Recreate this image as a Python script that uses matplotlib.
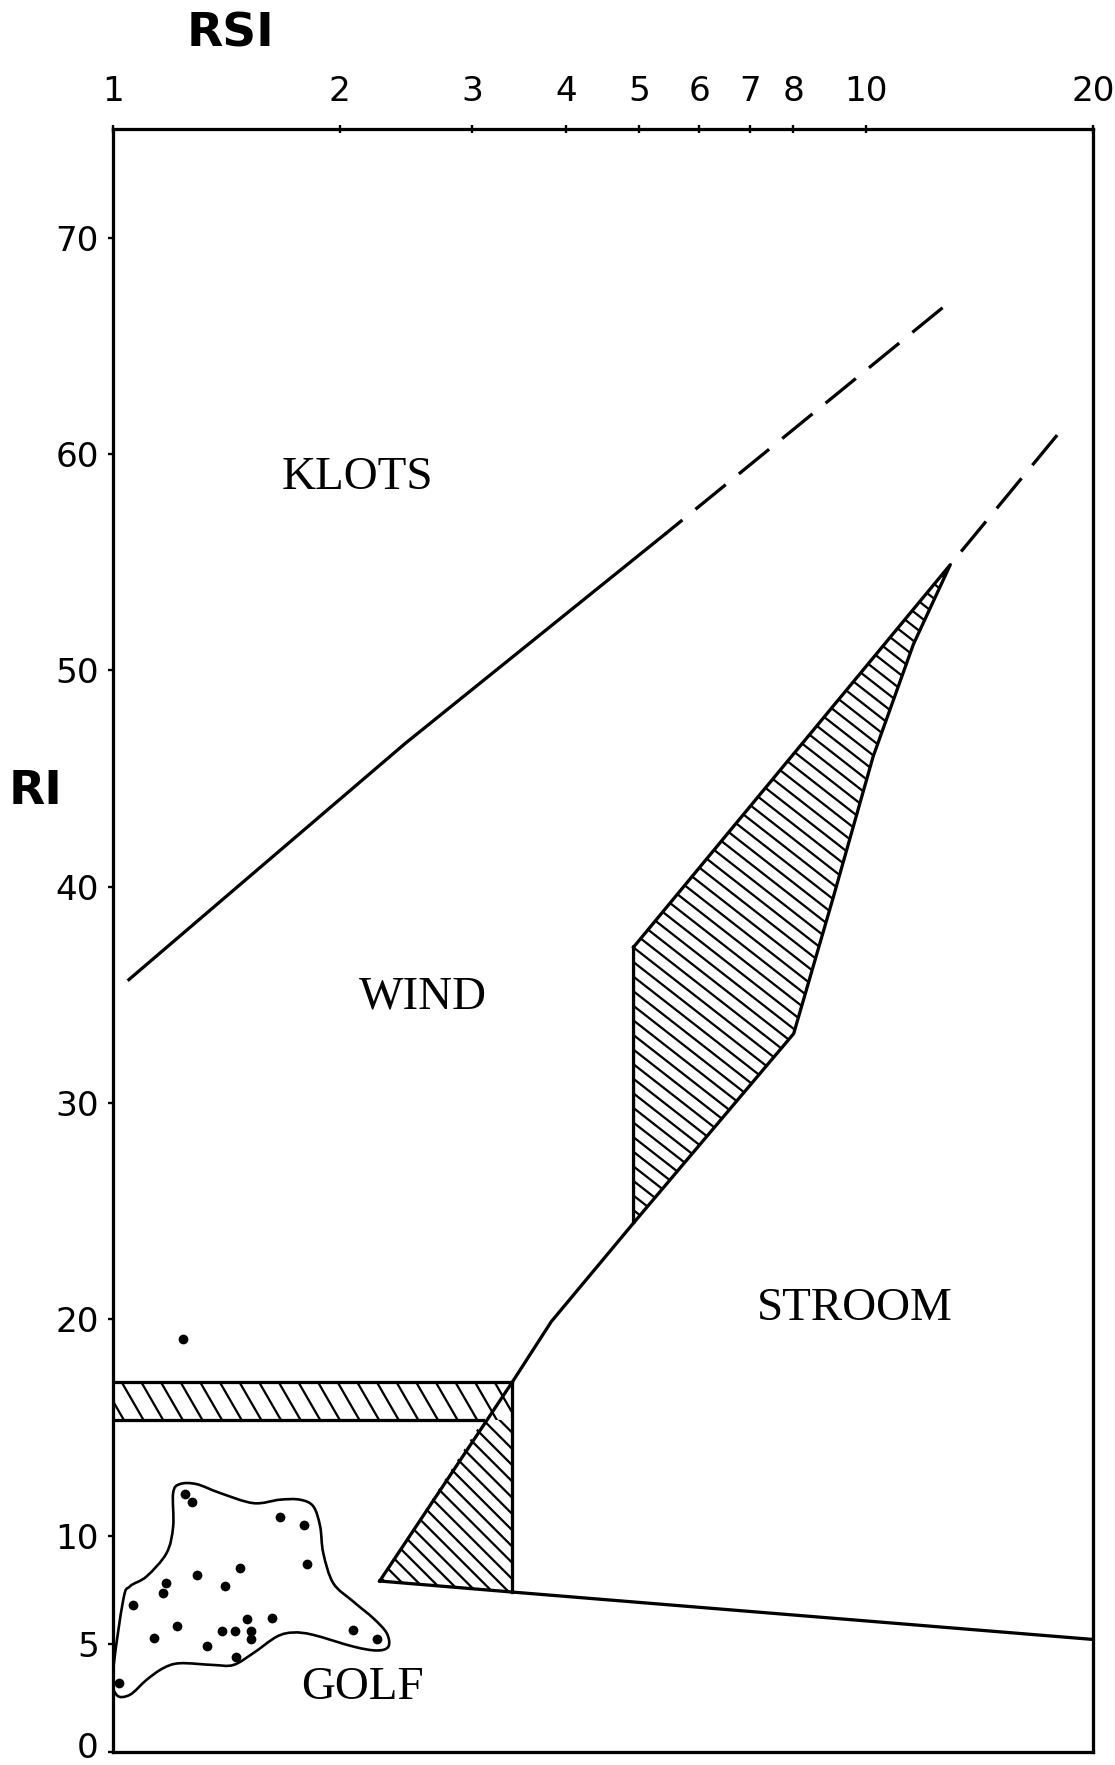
import numpy as np
import matplotlib
matplotlib.use("Agg")
import matplotlib.pyplot as plt
from matplotlib import ticker
from matplotlib.patches import Polygon, PathPatch
from matplotlib.path import Path
from matplotlib.collections import LineCollection
from matplotlib.transforms import ScaledTranslation

DPI = 130
plt.rcParams["lines.scale_dashes"] = False

# axis ticks
rsi_ticks = [1, 2, 3, 4, 5, 6, 7, 8, 10, 20]
ri_ticks = [0, 5, 10, 20, 30, 40, 50, 60, 70]

# KLOTS / WIND boundary (solid part, then dashed)
klots_x = [1.05, 2.44, 5.41]
klots_y = [35.7, 46.6, 56.3]
klots_dash_x = [5.41, 13.09]
klots_dash_y = [56.3, 67.2]

# hatched transition strip between WIND and STROOM
strip_x = [4.91, 4.91, 8.01, 9.04, 10.21, 11.55, 12.93]
strip_y = [37.2, 24.45, 33.2, 39.5, 46.0, 51.2, 54.88]
strip_dash_x = [12.93, 18.2]
strip_dash_y = [54.88, 61.15]

# WIND / STROOM boundary
wind_x = [2.26, 3.39, 3.82, 4.91]
wind_y = [7.9, 17.1, 19.9, 24.45]

# horizontal hatched band
band_x = [1.0, 3.39]
band_top = 17.1
band_bottom = 15.35
band_bottom_end = 3.1

# lower hatched triangle
tri_x = [2.26, 3.1, 3.39, 3.39]
tri_y = [7.9, 15.35, 15.35, 7.39]

# GOLF / STROOM boundary
golf_line_x = [2.26, 3.39, 20.0]
golf_line_y = [7.9, 7.39, 5.2]

# outline round the golf observations
blob_x = [1.00, 1.032, 1.053, 1.108, 1.178, 1.202, 1.202, 1.227, 1.291, 1.387,
          1.536, 1.666, 1.771, 1.845, 1.884, 1.902, 1.961, 2.085, 2.216, 2.309,
          2.321, 2.240, 2.085, 1.845, 1.736, 1.650, 1.536, 1.445, 1.359, 1.227,
          1.166, 1.108, 1.053, 1.011]
blob_y = [3.64, 7.03, 7.65, 8.11, 9.19, 10.42, 11.97, 12.38, 12.38, 11.97,
          11.50, 11.66, 11.66, 11.35, 10.42, 9.19, 7.80, 6.95, 6.18, 5.49,
          4.87, 4.69, 4.87, 5.41, 5.52, 5.33, 4.57, 4.02, 4.02, 4.10,
          3.87, 3.33, 2.64, 2.64]

# observations
obs_x = [1.238, 1.246, 1.274, 1.666, 1.794, 1.812, 1.475, 1.291, 1.408, 1.175,
         1.164, 1.062, 1.215, 1.135, 1.332, 1.397, 1.452, 1.505, 1.525, 1.525,
         1.624, 1.455, 2.085, 2.244, 1.019]
obs_y = [19.1, 11.92, 11.55, 10.87, 10.51, 8.70, 8.48, 8.20, 7.65, 7.80,
         7.34, 6.80, 5.84, 5.26, 4.90, 5.61, 5.61, 6.15, 5.57, 5.23,
         6.18, 4.41, 5.64, 5.23, 3.18]

region_names = ["KLOTS", "WIND", "STROOM", "GOLF"]
region_x = [2.114, 2.581, 9.67, 2.143]
region_y = [58.9, 34.9, 20.5, 2.97]

fig = plt.figure(figsize=(1115 / DPI, 1765 / DPI), dpi=DPI)
ax = fig.add_axes([0.1013, 0.0074, 0.8790, 0.9193])
ax.set_xscale("log")
ax.set_xlim(1, 20)
ax.set_ylim(0, 75)

LW = 1.8


def hatch(xs, ys, angle, step, lw=1.25):
    # parallel lines clipped to a polygon, step and angle in pixels
    poly = Polygon(np.column_stack([xs, ys]), closed=True, fill=False,
                   edgecolor="none")
    ax.add_patch(poly)
    pos = ax.get_position()
    W = fig.get_figwidth() * DPI * pos.width
    H = fig.get_figheight() * DPI * pos.height
    t = np.deg2rad(angle)
    d = np.array([np.cos(t), -np.sin(t)])
    nrm = np.array([np.sin(t), np.cos(t)])
    L = np.hypot(W, H)
    c0 = np.array([W / 2, H / 2])
    segs = []
    for k in np.arange(-L, L, step):
        a = (c0 + k * nrm - L * d) / [W, H]
        b = (c0 + k * nrm + L * d) / [W, H]
        segs.append([a, b])
    lc = LineCollection(segs, transform=ax.transAxes, colors="black",
                        linewidths=lw)
    ax.add_collection(lc, autolim=False)
    lc.set_clip_path(poly)


# hatching
hatch([band_x[0], band_x[1], band_x[1], band_x[0]],
      [band_top, band_top, band_bottom, band_bottom], 60, 17)
hatch(tri_x, tri_y, 45, 11.5)
hatch(strip_x, strip_y, 38, 11.5)

# boundaries
ax.plot(klots_x, klots_y, color="black", lw=LW)
ax.plot(klots_dash_x, klots_dash_y, color="black", lw=LW,
        linestyle=(9.4, (21.6, 9.4)))
ax.plot(strip_x + strip_x[:1], strip_y + strip_y[:1], color="black", lw=LW,
        solid_joinstyle="round")
ax.plot(strip_dash_x, strip_dash_y, color="black", lw=LW,
        linestyle=(21.6, (21.6, 9.4)))
ax.plot(wind_x, wind_y, color="black", lw=LW)
ax.plot(band_x, [band_top, band_top], color="black", lw=LW)
ax.plot([band_x[0], band_bottom_end], [band_bottom, band_bottom], color="black", lw=LW)
ax.plot([band_x[1], band_x[1]], [band_top, golf_line_y[1]], color="black", lw=LW)
ax.plot(golf_line_x, golf_line_y, color="black", lw=LW)

# smooth closed outline of the golf cluster
P = np.column_stack([np.log10(blob_x), blob_y])
n = len(P)
verts = [P[0]]
codes = [Path.MOVETO]
for i in range(n):
    p0, p1, p2, p3 = P[i - 1], P[i], P[(i + 1) % n], P[(i + 2) % n]
    verts += [p1 + (p2 - p0) / 6, p2 - (p3 - p1) / 6, p2]
    codes += [Path.CURVE4] * 3
verts = np.array(verts)
verts[:, 0] = 10 ** verts[:, 0]
ax.add_patch(PathPatch(Path(verts, codes), fill=False, lw=1.45, edgecolor="black"))

ax.plot(obs_x, obs_y, "o", color="black", ms=5.4, mec="none")

for name, x, y in zip(region_names, region_x, region_y):
    ax.text(x, y, name, ha="center", va="center", fontsize=26,
            family="Liberation Serif", color="black")

# axes styling
ax.xaxis.tick_top()
ax.set_xticks(rsi_ticks, [str(t) for t in rsi_ticks])
ax.xaxis.set_minor_locator(ticker.NullLocator())
ax.set_yticks(ri_ticks, [str(t) for t in ri_ticks])
ax.tick_params(axis="x", top=True, bottom=False, direction="inout", length=4,
               width=1.3, pad=10, labelsize=19)
ax.tick_params(axis="y", direction="out", length=2.8, width=1.3, pad=5,
               labelsize=19)
for s in ax.spines.values():
    s.set_linewidth(1.8)

# keep the "0" label inside the figure
zero_label = ax.get_yticklabels()[0]
zero_label.set_transform(zero_label.get_transform()
                         + ScaledTranslation(0, 4 / 72, fig.dpi_scale_trans))

fig.text(0.2068, 0.9809, "RSI", ha="center", va="center", fontsize=26,
         fontweight="bold")
fig.text(0.032, 0.5518, "RI", ha="center", va="center", fontsize=26,
         fontweight="bold")

fig.savefig("out.png", dpi=DPI, facecolor="white")
